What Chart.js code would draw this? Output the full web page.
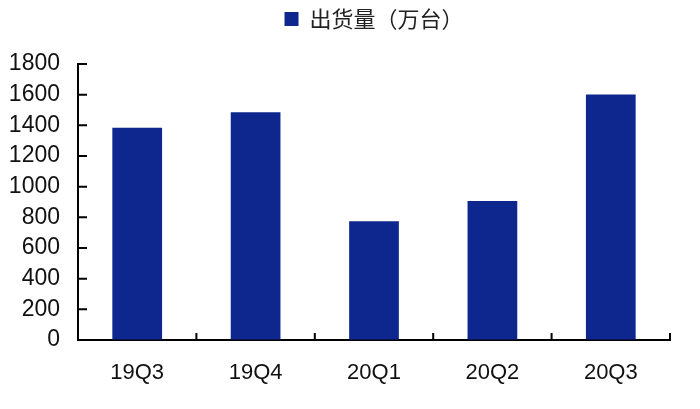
<!DOCTYPE html>
<html>
<head>
<meta charset="utf-8">
<script src="https://cdn.jsdelivr.net/npm/chart.js@4"></script>
<style>
  html, body { margin: 0; padding: 0; background: #fff; }
  #wrap { width: 700px; height: 409px; }
</style>
</head>
<body>
<div id="wrap"><canvas id="myChart"></canvas></div>
<script>
const quarters = ['19Q3', '19Q4', '20Q1', '20Q2', '20Q3'];
const shipments = [1385, 1486, 775, 906, 1601];
const seriesName = '出货量（万台）';
const yTicks = [0, 200, 400, 600, 800, 1000, 1200, 1400, 1600, 1800];

const barColor = '#0e278f';

// small inward tick marks like the original (axes ticks point into the plot)
const innerTicks = {
    id: 'innerTicks',
    afterDraw(chart) {
        const c = chart.ctx;
        const x = chart.scales.x, y = chart.scales.y;
        c.save();
        c.strokeStyle = '#000';
        c.lineWidth = 2;
        c.beginPath();
        yTicks.forEach(v => {
            const py = y.getPixelForValue(v);
            c.moveTo(y.right, py);
            c.lineTo(y.right + 9, py);
        });
        for (let i = 0; i < quarters.length; i++) {
            const px = x.getPixelForValue(i + 0.5);
            c.moveTo(px, x.top);
            c.lineTo(px, x.top - 7);
        }
        c.stroke();
        c.restore();
    }
};

const ctx = document.getElementById('myChart');
const chartData = {
    type: 'bar',
    data: {
        labels: quarters,
        datasets: [{
            label: seriesName,
            data: shipments,
            backgroundColor: barColor,
            borderWidth: 0,
            barPercentage: 0.42,
            categoryPercentage: 1
        }]
    },
    options: {
        responsive: true,
        maintainAspectRatio: false,
        animation: false,
        layout: { padding: { top: 0, right: 30, bottom: 0, left: 0 } },
        plugins: {
            legend: {
                position: 'top',
                fullSize: false,
                labels: {
                    boxWidth: 14,
                    boxHeight: 14,
                    padding: 8,
                    color: '#222',
                    font: { family: '"Noto Sans CJK SC"', size: 22 }
                }
            },
            // empty title used as a spacer between legend and plot
            title: {
                display: true,
                text: '',
                weight: 500,
                font: { size: 10 },
                padding: { top: 0, bottom: 12 }
            },
            tooltip: { enabled: false }
        },
        scales: {
            x: {
                grid: { display: true, drawOnChartArea: false, drawTicks: false },
                border: { color: '#000', width: 2 },
                ticks: {
                    color: '#111',
                    padding: 20,
                    font: { family: '"Liberation Sans", Arial', size: 22 }
                },
                afterFit(scale) { scale.height = 69; }
            },
            y: {
                min: 0,
                max: 1800,
                grid: { display: true, drawOnChartArea: false, drawTicks: false },
                border: { color: '#000', width: 2 },
                ticks: {
                    stepSize: 200,
                    color: '#111',
                    padding: 18,
                    font: { family: '"Liberation Sans", Arial', size: 23 },
                    callback: v => String(v)
                },
                afterFit(scale) { scale.width = 78; }
            }
        }
    },
    plugins: [innerTicks]
}
const myChart = new Chart(ctx, chartData)
</script>
</body>
</html>
